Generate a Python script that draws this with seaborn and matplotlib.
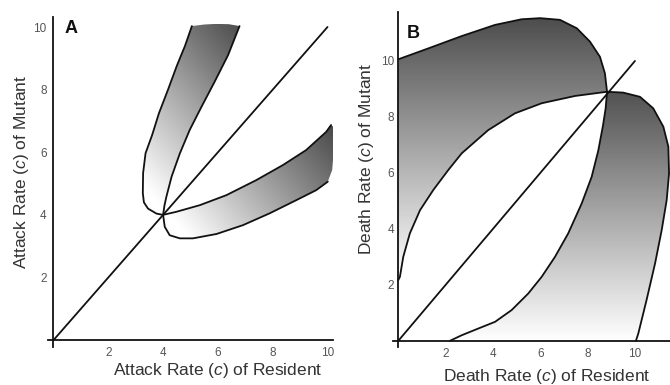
import numpy as np
import matplotlib
matplotlib.use("Agg")
import matplotlib.pyplot as plt
from matplotlib.patches import Polygon
from matplotlib.colors import LinearSegmentedColormap
import seaborn as sns

sns.set_style("white")
plt.rcParams['font.family'] = ['Liberation Sans', 'DejaVu Sans']
plt.rcParams['mathtext.fontset'] = 'custom'
plt.rcParams['mathtext.rm'] = 'Liberation Sans'
plt.rcParams['mathtext.it'] = 'Liberation Sans:italic'

# ---------------- data: Panel A (attack rate) ----------------
diag_x = [0, 10]
diag_y = [0, 10]
ticks = [2, 4, 6, 8, 10]

A_up_left_x = [4.0, 3.76, 3.45, 3.3, 3.26, 3.27, 3.36, 3.6, 3.85, 4.18, 4.5, 4.8, 5.05]
A_up_left_y = [4.0, 4.04, 4.2, 4.4, 4.69, 5.33, 5.97, 6.55, 7.25, 8.0, 8.76, 9.4, 10.03]
A_up_right_x = [4.0, 4.05, 4.12, 4.31, 4.61, 4.97, 5.4, 5.88, 6.37, 6.79]
A_up_right_y = [4.0, 4.3, 4.58, 5.22, 5.96, 6.71, 7.45, 8.25, 9.1, 10.03]
A_up_top_x = [5.05, 5.5, 5.94, 6.4, 6.79]
A_up_top_y = [10.03, 10.08, 10.1, 10.09, 10.03]

A_lo_upper_x = [4.0, 4.49, 5.34, 6.31, 7.4, 8.37, 9.22, 9.95, 10.13]
A_lo_upper_y = [4.0, 4.1, 4.31, 4.63, 5.11, 5.59, 6.07, 6.65, 6.87]
A_lo_edge_x = [10.13, 10.22, 10.23, 10.17, 10.01]
A_lo_edge_y = [6.87, 6.81, 6.07, 5.43, 5.06]
A_lo_lower_x = [4.0, 4.06, 4.24, 4.61, 5.09, 5.95, 6.91, 7.89, 8.86, 9.59, 10.01]
A_lo_lower_y = [4.0, 3.62, 3.35, 3.25, 3.25, 3.39, 3.67, 4.05, 4.47, 4.79, 5.06]

# ---------------- data: Panel B (death rate) ----------------
B_top_x = [0.0, 1.27, 2.68, 4.09, 5.21, 5.99, 6.83, 7.54, 8.1, 8.52, 8.73, 8.82]
B_top_y = [10.06, 10.45, 10.89, 11.29, 11.49, 11.53, 11.47, 11.17, 10.69, 10.15, 9.56, 8.9]
B_mid_up_x = [0.0, 0.07, 0.21, 0.49, 0.92, 1.48, 2.11, 2.68, 3.8, 4.93, 6.06, 7.47, 8.82]
B_mid_up_y = [2.17, 2.29, 3.0, 3.84, 4.67, 5.39, 6.1, 6.7, 7.53, 8.13, 8.49, 8.75, 8.9]
B_mid_lo_x = [2.18, 2.68, 3.38, 4.09, 4.79, 5.49, 6.06, 6.62, 7.18, 7.75, 8.17, 8.45, 8.65, 8.76, 8.82]
B_mid_lo_y = [0.0, 0.2, 0.44, 0.68, 1.1, 1.69, 2.29, 3.0, 3.84, 4.91, 5.86, 6.8, 7.7, 8.3, 8.9]
B_bulge_x = [8.82, 9.5, 10.21, 10.77, 11.2, 11.41, 11.44, 11.34, 11.13, 10.85, 10.49, 10.14, 10.04]
B_bulge_y = [8.9, 8.87, 8.72, 8.31, 7.65, 6.94, 5.98, 5.03, 3.96, 2.77, 1.46, 0.26, 0.0]

W, H = 670, 385
fig = plt.figure(figsize=(W / 100, H / 100), dpi=100)
axA = fig.add_axes([48 / W, 38 / H, 285 / W, 330 / H])
axB = fig.add_axes([393.3 / W, 38 / H, 276.7 / W, 335 / H])

cmap = LinearSegmentedColormap.from_list("g", ["#ffffff", "#4c4c4c"])
LINE = dict(color="#111111", linewidth=1.3, sort=False, estimator=None, legend=False)


def shade(ax, xs, ys, mode, lo, hi):
    verts = np.column_stack([xs, ys])
    poly = Polygon(verts, closed=True, facecolor="none", edgecolor="none")
    ax.add_patch(poly)
    x0, x1 = verts[:, 0].min(), verts[:, 0].max()
    y0, y1 = verts[:, 1].min(), verts[:, 1].max()
    gx, gy = np.meshgrid(np.linspace(x0, x1, 300), np.linspace(y0, y1, 300))
    s = gx + gy if mode == "diag" else gy
    v = np.clip((s - lo) / (hi - lo), 0, 1)
    im = ax.imshow(v, extent=[x0, x1, y0, y1], origin="lower", cmap=cmap,
                   vmin=0, vmax=1, aspect="auto", interpolation="bilinear", zorder=1)
    im.set_clip_path(poly)


# ---- Panel A ----
shade(axA,
      np.concatenate([A_up_left_x, A_up_top_x, A_up_right_x[::-1]]),
      np.concatenate([A_up_left_y, A_up_top_y, A_up_right_y[::-1]]),
      "diag", 8.2, 16.9)
shade(axA,
      np.concatenate([A_lo_upper_x, A_lo_edge_x, A_lo_lower_x[::-1]]),
      np.concatenate([A_lo_upper_y, A_lo_edge_y, A_lo_lower_y[::-1]]),
      "diag", 8.2, 16.9)
for xs, ys in [(diag_x, diag_y), (A_up_left_x, A_up_left_y), (A_up_right_x, A_up_right_y),
               (A_lo_upper_x, A_lo_upper_y), (A_lo_lower_x, A_lo_lower_y)]:
    sns.lineplot(x=xs, y=ys, ax=axA, zorder=3, **LINE)

# ---- Panel B ----
shade(axB,
      np.concatenate([B_top_x, B_mid_up_x[::-1]]),
      np.concatenate([B_top_y, B_mid_up_y[::-1]]),
      "vert", 2.2, 11.6)
shade(axB,
      np.concatenate([B_mid_lo_x, B_bulge_x]),
      np.concatenate([B_mid_lo_y, B_bulge_y]),
      "vert", 0.0, 9.2)
for xs, ys in [(diag_x, diag_y), (B_top_x, B_top_y), (B_mid_up_x, B_mid_up_y),
               (B_mid_lo_x, B_mid_lo_y), (B_bulge_x, B_bulge_y)]:
    sns.lineplot(x=xs, y=ys, ax=axB, zorder=3, **LINE)

axA.set_xlim(-0.2, 10.2)
axA.set_ylim(-0.22, 10.32)
axB.set_xlim(-0.21, 11.48)
axB.set_ylim(-0.22, 11.75)

for ax in (axA, axB):
    ax.patch.set_alpha(0)
    for side in ("top", "right"):
        ax.spines[side].set_visible(False)
    for side in ("left", "bottom"):
        ax.spines[side].set_position(("data", 0))
        ax.spines[side].set_linewidth(1.3)
        ax.spines[side].set_color("#111111")
        ax.spines[side].set_zorder(4)
    ax.set_xticks(ticks)
    ax.set_yticks(ticks)
    ax.tick_params(direction="in", length=3, width=1, color="#222222",
                   labelsize=8.5, labelcolor="#555555", pad=5)
axB.tick_params(axis="y", pad=3)

lab = dict(fontsize=12.5, color="#333333")
axA.set_xlabel(r"Attack Rate ($\mathit{c}$) of Resident", **lab)
axA.set_ylabel(r"Attack Rate ($\mathit{c}$) of Mutant", **lab)
axB.set_xlabel(r"Death Rate ($\mathit{c}$) of Resident", **lab)
axB.set_ylabel(r"Death Rate ($\mathit{c}$) of Mutant", **lab)
for ax in (axA, axB):
    ax.xaxis.label.set_va("center")
    ax.yaxis.label.set_va("center")
axA.xaxis.set_label_coords((218 - 48) / 285, (347 - 370) / 330)
axA.yaxis.set_label_coords((22 - 48) / 285, (347 - 172) / 330)
axB.xaxis.set_label_coords((547 - 393.3) / 276.7, (347 - 376) / 335)
axB.yaxis.set_label_coords((367 - 393.3) / 276.7, (347 - 159) / 335)

axA.text(0.42, 10.22, "A", fontsize=13, fontweight="bold", ha="left", va="top", color="#111111")
axB.text(0.37, 11.3, "B", fontsize=13, fontweight="bold", ha="left", va="top", color="#111111")

fig.savefig("out.png", dpi=100)
